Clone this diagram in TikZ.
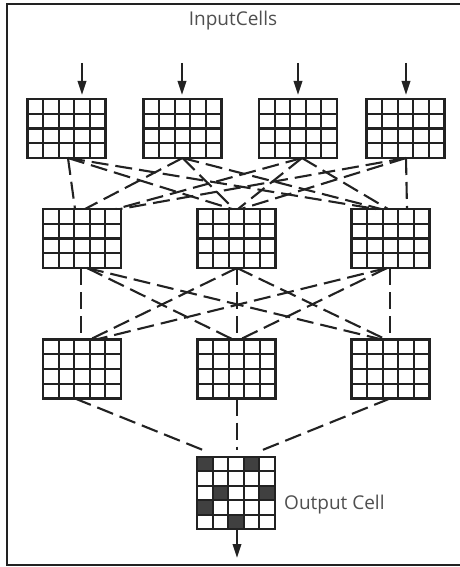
\documentclass[tikz,border=0pt]{standalone}
\usepackage{fontspec}
\setmainfont{Open Sans}
\usetikzlibrary{calc,arrows.meta}
\definecolor{ink}{HTML}{222222}
\definecolor{txt}{HTML}{4F4F4F}
\definecolor{darkcell}{HTML}{404040}
\tikzset{
  gridline/.style={draw=ink,line width=2.1pt},
  gridbox/.style={draw=ink,line width=2.1pt,minimum width=78pt,minimum height=59pt,inner sep=0pt,outer sep=0pt},
  conn/.style={draw=ink,line width=2.1pt,dash pattern=on 17pt off 7pt},
  flow/.style={draw=ink,line width=2.1pt,-{Triangle[length=14pt,width=8.5pt]}},
  label/.style={text=txt,font=\fontsize{19}{22}\selectfont,inner sep=0pt}
}
\newcommand\cellgrid[3]{%
  \pgfmathtruncatemacro\cgA{#2-1}\pgfmathtruncatemacro\cgB{#3-1}%
  \foreach \k in {1,...,\cgA}{\draw[gridline] ($(#1.south west)!{\k/#2}!(#1.south east)$) -- ($(#1.north west)!{\k/#2}!(#1.north east)$);}%
  \foreach \k in {1,...,\cgB}{\draw[gridline] ($(#1.south west)!{\k/#3}!(#1.north west)$) -- ($(#1.south east)!{\k/#3}!(#1.north east)$);}%
}
\begin{document}
\begin{tikzpicture}[x=1pt,y=-1pt]
\useasboundingbox (0,0) rectangle (460,567);
% frame
\draw[ink,line width=2.4pt] (465,4) -- (7,4) -- (7,565) -- (465,565);
% labels
\node[label,anchor=base] (lin) at (233,26) {InputCells};
% top row
\node[gridbox] (T1) at (66.5,128.5) {};
\node[gridbox] (T2) at (182.5,128.5) {};
\node[gridbox] (T3) at (298,128.5) {};
\node[gridbox] (T4) at (405.5,128.5) {};
% middle row
\node[gridbox] (A) at (82,238.5) {};
\node[gridbox] (B) at (236.5,238.5) {};
\node[gridbox] (C) at (390.5,238.5) {};
% third row
\node[gridbox] (D) at (82,369) {};
\node[gridbox] (E) at (236.5,369) {};
\node[gridbox] (F) at (390.5,369) {};
% output
\node[gridbox,minimum height=72pt] (O) at (236,493) {};
\foreach \c/\r in {0/0,3/0,1/2,4/2,0/3,2/4}{
  \fill[darkcell] ($(O.north west)+(\c*15.6,\r*14.4)$) rectangle ++(15.6,14.4);
}
\draw[gridline] (O.south west) rectangle (O.north east);
\node[label,anchor=base west] (lout) at (284,509) {Output Cell};
% grids
\foreach \n in {T1,T2,T3,T4,A,B,C,D,E,F}{\cellgrid{\n}{5}{4}}
\cellgrid{O}{5}{5}
% input arrows
\coordinate (i1) at (82,63);
\coordinate (i2) at (182,63);
\coordinate (i3) at (298,63);
\coordinate (i4) at (406,63);
\draw[flow] (i1) -- ([xshift=15.5pt,yshift=4pt]T1.north);
\draw[flow] (i2) -- ([xshift=-0.5pt,yshift=4pt]T2.north);
\draw[flow] (i3) -- ([yshift=4pt]T3.north);
\draw[flow] (i4) -- ([xshift=0.5pt,yshift=4pt]T4.north);
% top -> middle
\draw[conn] ([xshift=1.5pt]T1.south) -- ([xshift=-7pt]A.north);
\draw[conn] ([xshift=1.5pt]T1.south) -- ([xshift=-4.5pt]B.north);
\draw[conn] ([xshift=1.5pt]T1.south) -- ([xshift=-14.5pt]C.north);
\draw[conn] (T2.south) -- ([xshift=3pt]A.north);
\draw[conn] (T2.south) -- ([xshift=-2.5pt]B.north);
\draw[conn] (T2.south) -- ([xshift=-9.5pt]C.north);
\draw[conn] ([xshift=4pt]T3.south) -- ([xshift=34pt]A.north);
\draw[conn] ([xshift=4pt]T3.south) -- ([xshift=1.5pt]B.north);
\draw[conn] ([xshift=4pt]T3.south) -- ([xshift=-2.5pt]C.north);
\draw[conn] ([xshift=0.5pt]T4.south) -- ([xshift=38pt]A.north);
\draw[conn] ([xshift=0.5pt]T4.south) -- ([xshift=4.5pt]B.north);
\draw[conn] ([xshift=0.5pt]T4.south) -- ([xshift=16.5pt]C.north);
% middle -> third
\draw[conn] ([xshift=-1pt]A.south) -- ([xshift=-1pt]D.north);
\draw[conn] ([xshift=5pt]A.south) -- ([xshift=-3.5pt]E.north);
\draw[conn] ([xshift=5pt]A.south) -- ([xshift=-8.5pt]F.north);
\draw[conn] ([xshift=0.5pt]B.south) -- ([xshift=8pt]D.north);
\draw[conn] ([xshift=0.5pt]B.south) -- ([xshift=0.5pt]E.north);
\draw[conn] ([xshift=0.5pt]B.south) -- ([xshift=-4.5pt]F.north);
\draw[conn] ([xshift=-3.5pt]C.south) -- ([xshift=14pt]D.north);
\draw[conn] ([xshift=-3.5pt]C.south) -- ([xshift=3.5pt]E.north);
\draw[conn] ([xshift=-0.5pt]C.south) -- ([xshift=-0.5pt]F.north);
% third -> output
\draw[conn] ([xshift=-7pt]D.south) -- ([xshift=-33pt,yshift=7pt]O.north);
\draw[conn] ([xshift=0.5pt]E.south) -- ([xshift=1pt,yshift=7pt]O.north);
\draw[conn] ([xshift=-0.5pt]F.south) -- ([xshift=24pt,yshift=6pt]O.north);
% output arrow
\coordinate (o1) at (237,558);
\draw[flow] ([xshift=1pt]O.south) -- (o1);
\end{tikzpicture}
\end{document}
